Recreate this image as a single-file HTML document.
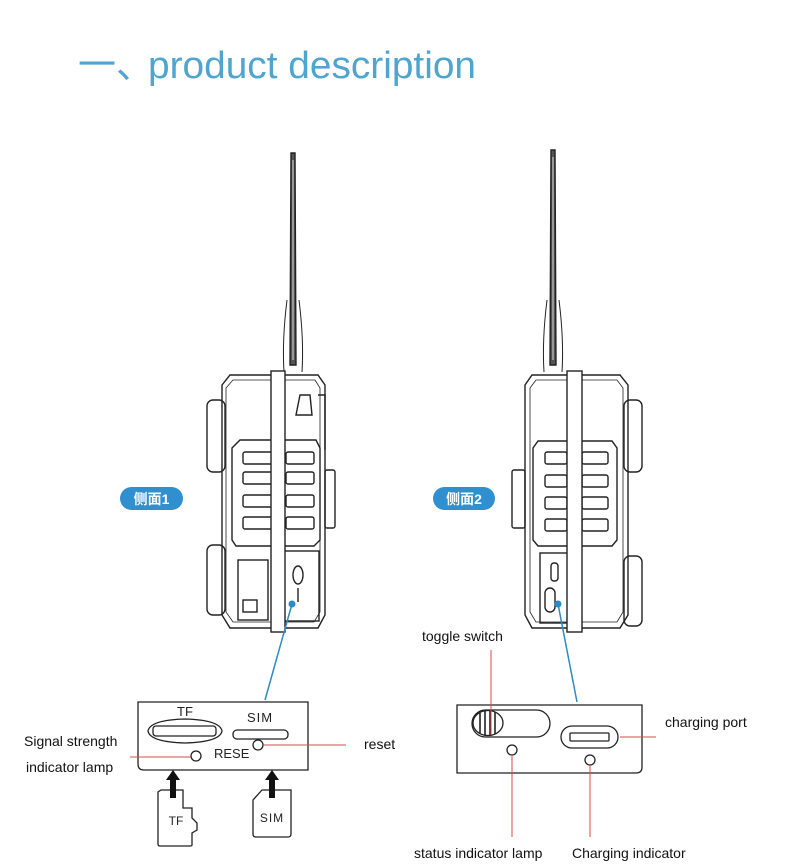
<!DOCTYPE html>
<html><head><meta charset="utf-8"><style>
body{margin:0;background:#fff}
svg{display:block}
text{font-family:"Liberation Sans","Noto Sans CJK SC",sans-serif}
</style></head><body>
<svg width="790" height="865" viewBox="0 0 790 865" xmlns="http://www.w3.org/2000/svg">
<rect width="790" height="865" fill="#fff"/>
<text x="78" y="78" font-size="38" fill="#4fa5cf" font-family="Noto Sans CJK SC, sans-serif">一、</text>
<text x="148" y="78" font-size="38" fill="#4fa5cf" textLength="328" lengthAdjust="spacingAndGlyphs">product description</text>

<!-- LEFT DEVICE -->
<g fill="none" stroke="#222" stroke-width="1.4">
 <path d="M291 153 L295 153 L296 365 L290 365 Z" fill="#555"/>
 <line x1="293" y1="160" x2="293" y2="360" stroke="#fff" stroke-width="0.8"/>
 <path d="M287 300 Q282 340 284 372 M299 300 Q304 340 302 372" stroke-width="1"/>
 <rect x="207" y="400" width="18" height="72" rx="6"/>
 <rect x="207" y="545" width="18" height="70" rx="6"/>
 <path d="M222 385 L230 375 L318 375 L325 385 L325 615 L318 628 L230 628 L222 615 Z"/>
 <path d="M226 388 L233 380 L315 380 L320 388 L320 612 L314 622 L233 622 L226 612 Z" stroke-width="0.8"/>
 <path d="M232 448 L240 440 L316 440 L320 448 L320 540 L314 546 L236 546 L232 540 Z"/>
 <rect x="243" y="452" width="30" height="12" rx="2"/><rect x="286" y="452" width="28" height="12" rx="2"/>
 <rect x="243" y="472" width="30" height="12" rx="2"/><rect x="286" y="472" width="28" height="12" rx="2"/>
 <rect x="243" y="495" width="30" height="12" rx="2"/><rect x="286" y="495" width="28" height="12" rx="2"/>
 <rect x="243" y="517" width="30" height="12" rx="2"/><rect x="286" y="517" width="28" height="12" rx="2"/>
 <rect x="325" y="470" width="10" height="58" rx="2"/>
 <path d="M318 395 L325 395 L325 450 M300 395 L310 395 L312 415 L296 415 Z"/>
 <rect x="238" y="560" width="30" height="60"/>
 <rect x="243" y="600" width="14" height="12"/>
 <rect x="283" y="551" width="36" height="70"/>
 <ellipse cx="298" cy="575" rx="5" ry="9"/>
 <line x1="298" y1="588" x2="298" y2="602"/>
 <rect x="271" y="371" width="14" height="261" fill="#fff"/>
</g>
<circle cx="292" cy="604" r="3.5" fill="#2c8bc4"/>
<line x1="292" y1="604" x2="265" y2="700" stroke="#2c8bc4" stroke-width="1.5"/>

<!-- RIGHT DEVICE -->
<g fill="none" stroke="#222" stroke-width="1.4">
 <path d="M551 150 L555 150 L556 365 L550 365 Z" fill="#555"/>
 <line x1="553" y1="157" x2="553" y2="360" stroke="#fff" stroke-width="0.8"/>
 <path d="M547 300 Q542 340 544 372 M559 300 Q564 340 562 372" stroke-width="1"/>
 <rect x="624" y="400" width="18" height="72" rx="6"/>
 <rect x="624" y="556" width="18" height="70" rx="6"/>
 <path d="M525 385 L532 375 L620 375 L628 385 L628 615 L620 628 L532 628 L525 615 Z"/>
 <path d="M530 388 L536 380 L617 380 L623 388 L623 612 L617 622 L536 622 L530 612 Z" stroke-width="0.8"/>
 <path d="M533 448 L538 441 L612 441 L617 448 L617 540 L612 546 L538 546 L533 540 Z"/>
 <rect x="545" y="452" width="22" height="12" rx="2"/><rect x="582" y="452" width="26" height="12" rx="2"/>
 <rect x="545" y="475" width="22" height="12" rx="2"/><rect x="582" y="475" width="26" height="12" rx="2"/>
 <rect x="545" y="497" width="22" height="12" rx="2"/><rect x="582" y="497" width="26" height="12" rx="2"/>
 <rect x="545" y="519" width="22" height="12" rx="2"/><rect x="582" y="519" width="26" height="12" rx="2"/>
 <rect x="512" y="470" width="13" height="58" rx="2"/>
 <rect x="540" y="553" width="30" height="70"/>
 <rect x="551" y="563" width="7" height="18" rx="3"/>
 <rect x="545" y="588" width="10" height="24" rx="5"/>
 <rect x="567" y="371" width="15" height="261" fill="#fff"/>
</g>
<circle cx="558" cy="604" r="3.5" fill="#2c8bc4"/>
<line x1="558" y1="604" x2="577" y2="702" stroke="#2c8bc4" stroke-width="1.5"/>

<!-- badges -->
<rect x="120" y="487" width="63" height="23" rx="11.5" fill="#2f8fcf"/>
<text x="151.5" y="504" font-size="14" font-weight="bold" fill="#fff" text-anchor="middle" font-family="Noto Sans CJK SC, sans-serif">侧面1</text>
<rect x="433" y="487" width="62" height="23" rx="11.5" fill="#2f8fcf"/>
<text x="464" y="504" font-size="14" font-weight="bold" fill="#fff" text-anchor="middle" font-family="Noto Sans CJK SC, sans-serif">侧面2</text>

<!-- LEFT PANEL -->
<g fill="none" stroke="#222" stroke-width="1.3">
 <path d="M138 702 L308 702 L308 770 L144 770 Q138 770 138 764 Z"/>
 <path d="M148 731 Q150 720 185 719 Q220 720 222 731 Q220 742 185 743 Q150 742 148 731 Z"/>
 <rect x="153" y="726" width="63" height="10" rx="3"/>
 <rect x="233" y="730" width="55" height="9" rx="4"/>
 <circle cx="196" cy="756" r="5"/>
 <circle cx="258" cy="745" r="5"/>
 <path d="M161 790 L183 790 L183 808 L192 808 L192 818 L197 823 L197 830 L192 833 L192 845 Q192 846 190 846 L160 846 Q158 846 158 844 L158 792 Z"/>
 <path d="M262 790 L291 790 L291 834 Q291 837 288 837 L256 837 Q253 837 253 834 L253 800 Z"/>
</g>
<text x="185" y="716" font-size="13" fill="#222" text-anchor="middle">TF</text>
<text x="260" y="722" font-size="13" fill="#222" text-anchor="middle" letter-spacing="1">SIM</text>
<text x="214" y="758" font-size="13" fill="#222">RESE</text>
<text x="176" y="825" font-size="12" fill="#222" text-anchor="middle">TF</text>
<text x="272" y="822" font-size="12" fill="#222" text-anchor="middle" letter-spacing="1">SIM</text>
<path d="M170 798 L176 798 L176 780 L180 780 L173 770 L166 780 L170 780 Z" fill="#111"/>
<path d="M269 798 L275 798 L275 780 L279 780 L272 770 L265 780 L269 780 Z" fill="#111"/>
<line x1="130" y1="757" x2="191" y2="757" stroke="#d94a4a" stroke-width="1"/>
<line x1="263" y1="745" x2="346" y2="745" stroke="#d94a4a" stroke-width="1"/>
<text x="24" y="746" font-size="14" fill="#111">Signal strength</text>
<text x="26" y="772" font-size="14" fill="#111">indicator lamp</text>
<text x="364" y="749" font-size="14" fill="#111">reset</text>

<!-- RIGHT PANEL -->
<g fill="none" stroke="#222" stroke-width="1.3">
 <path d="M457 705 L642 705 L642 767 Q642 773 636 773 L457 773 Z"/>
 <rect x="472" y="710" width="78" height="27" rx="13.5"/>
 <ellipse cx="488" cy="723" rx="15" ry="12.5" fill="#fff"/>
 <path d="M480 713 L480 733 M485 711 L485 735 M490 711 L490 735 M495 712 L495 734" stroke-width="1.6"/>
 <rect x="561" y="726" width="57" height="22" rx="11"/>
 <rect x="570" y="733" width="39" height="8" rx="1"/>
 <circle cx="512" cy="750" r="5"/>
 <circle cx="590" cy="760" r="5"/>
</g>
<line x1="491" y1="650" x2="491" y2="735" stroke="#d94a4a" stroke-width="1"/>
<line x1="620" y1="737" x2="656" y2="737" stroke="#d94a4a" stroke-width="1"/>
<line x1="512" y1="755" x2="512" y2="837" stroke="#d94a4a" stroke-width="1"/>
<line x1="590" y1="765" x2="590" y2="837" stroke="#d94a4a" stroke-width="1"/>
<text x="422" y="641" font-size="14" fill="#111">toggle switch</text>
<text x="665" y="727" font-size="14" fill="#111">charging port</text>
<text x="414" y="858" font-size="14" fill="#111">status indicator lamp</text>
<text x="572" y="858" font-size="14" fill="#111">Charging indicator</text>
</svg>
</body></html>
